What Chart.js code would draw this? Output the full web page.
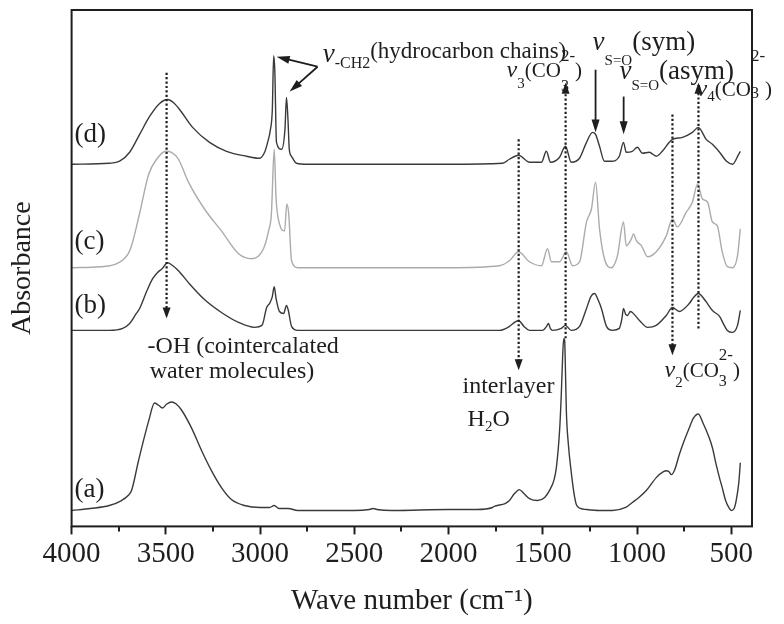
<!DOCTYPE html>
<html>
<head>
<meta charset="utf-8">
<script src="https://cdn.jsdelivr.net/npm/chart.js@4/dist/chart.umd.min.js"></script>
<style>
  html, body { margin: 0; padding: 0; background: #fff; }
  #wrap { width: 784px; height: 624px; }
</style>
</head>
<body>
<div id="wrap"><canvas id="ftir" width="784" height="624"></canvas></div>
<script>
// FTIR spectra of the four samples, (a) to (d); absorbance in arbitrary units
const wnA = [4000,3900,3800,3735,3700,3682,3645,3591,3560,3540,3518,3495,3470,3445,3417,3364,3310,3258,3205,3152,3083,3000,2950,2925,2900,2850,2800,2700,2500,2420,2400,2380,2300,2000,1850,1767,1760,1700,1677,1650,1624,1600,1571,1528,1490,1465,1440,1428,1410,1402,1395,1389,1384,1380,1375,1365,1350,1335,1322,1300,1269,1200,1131,1060,1025,990,951,898,860,845,830,818,800,776,750,723,700,675,650,617,600,580,560,548,530,510,500,485,474,460,452];
const absA = [0,.02,.05,.10,.15,.20,.50,.90,1.08,1.06,1.03,1.07,1.09,1.07,1.01,.83,.60,.40,.23,.11,.05,.03,.03,.05,.02,.02,0,0,0,.01,.02,.01,0,.01,.01,.03,.04,.07,.10,.17,.21,.17,.12,.10,.13,.20,.31,.43,.83,1.16,1.53,1.73,1.71,1.43,1.00,.68,.40,.18,.06,.02,.01,0,0,.03,.08,.13,.20,.33,.39,.40,.39,.36,.41,.56,.70,.83,.93,.97,.88,.73,.63,.46,.31,.23,.10,.02,0,.02,.10,.28,.48];

const wnB = [4000,3800,3729,3692,3660,3639,3600,3570,3545,3520,3490,3470,3433,3380,3295,3205,3114,3029,2990,2965,2950,2935,2925,2915,2897,2875,2860,2850,2833,2800,2000,1730,1677,1650,1629,1600,1571,1502,1480,1470,1460,1449,1402,1380,1349,1305,1268,1245,1226,1205,1189,1162,1131,1094,1080,1072,1060,1051,1035,1025,987,944,898,845,812,776,723,700,675,638,600,562,540,521,493,467,452];
const absB = [0,0,.02,.07,.16,.22,.40,.52,.58,.62,.68,.66,.60,.48,.31,.18,.08,.03,.05,.23,.27,.34,.44,.32,.19,.17,.25,.20,.04,0,0,0,.04,.08,.10,.04,0,0,.04,.07,.02,0,.02,.05,0,.04,.22,.34,.37,.30,.22,.04,0,.02,.12,.22,.16,.15,.19,.18,.10,.03,.05,.15,.23,.19,.27,.33,.37,.30,.20,.14,.06,0,-.02,.05,.20];

const wnC = [4000,3850,3760,3700,3682,3640,3591,3549,3500,3470,3433,3380,3295,3205,3114,3045,2982,2955,2940,2925,2915,2897,2870,2858,2848,2833,2800,2000,1730,1677,1629,1571,1507,1475,1454,1411,1375,1342,1305,1268,1242,1220,1199,1173,1136,1104,1072,1057,1030,1019,1003,976,944,898,845,812,786,738,706,679,653,626,600,574,548,521,493,467,452];
const absC = [0,.01,.04,.14,.22,.54,.94,1.09,1.17,1.16,1.09,.86,.59,.37,.14,.09,.19,.37,.54,1.19,.69,.44,.37,.64,.54,.07,0,0,.02,.07,.16,.06,.02,.19,.06,.06,.16,.02,.06,.46,.59,.86,.39,.09,0,.12,.46,.22,.29,.34,.27,.22,.11,.16,.32,.49,.41,.56,.66,.84,.69,.66,.46,.42,.16,.01,0,.12,.39];

const wnD = [4000,3800,3745,3692,3639,3586,3533,3491,3460,3427,3358,3268,3178,3072,3003,2976,2960,2945,2935,2928,2922,2913,2886,2868,2860,2852,2845,2833,2807,2750,2000,1713,1677,1629,1570,1507,1481,1459,1411,1380,1349,1305,1268,1236,1220,1199,1173,1136,1094,1072,1057,1025,998,971,935,898,866,829,812,759,706,675,633,600,562,525,493,461,452];
const absD = [0,.01,.03,.12,.30,.48,.61,.65,.62,.55,.37,.22,.13,.08,.06,.12,.22,.35,.55,1.09,.95,.22,.15,.35,.67,.45,.15,.08,.01,0,0,.01,.05,.09,.02,.02,.13,.02,.07,.18,.02,.06,.22,.32,.30,.18,.03,.03,.08,.22,.12,.13,.17,.11,.12,.08,.13,.22,.25,.27,.32,.37,.25,.20,.12,.03,0,.10,.13];

// vertical stacking of the traces (a, b, c, d)
const sampleNames = ['(a)', '(b)', '(c)', '(d)'];
const stackShift = [0.16, 1.97, 2.60, 3.64];

// axis ticks
const majorTicks = [4000, 3500, 3000, 2500, 2000, 1500, 1000, 500];
const minorTicks = [3750, 3250, 2750, 2250, 1750, 1250, 750];

const FONT = "'Liberation Serif', 'Times New Roman', serif";
const INK = '#1e1e1e';
const TRACE = '#3a3a3a';

function series(wn, ab, shift) {
  return wn.map((w, i) => ({ x: w, y: ab[i] + shift }));
}

// band assignments: dotted guides (wavenumber, from, to) and solid pointers
const dottedGuides = [
  { x: 3496, from: 4.56, to: 2.09 },
  { x: 1628, from: 3.89, to: 1.57 },
  { x: 1379, from: 1.89, to: 4.46 },
  { x: 812,  from: 4.14, to: 1.72 },
  { x: 674,  from: 1.99, to: 4.46 }
];
const solidPointers = [
  { x1: 2695, y1: 4.62, x2: 2912, y2: 4.72 },
  { x1: 2695, y1: 4.62, x2: 2843, y2: 4.37 },
  { x1: 1220, y1: 4.59, x2: 1220, y2: 3.96 },
  { x1: 1071, y1: 4.32, x2: 1071, y2: 3.94 }
];

const NU = '\u03BD';
const bandLabels = [
  { x: 2668, y: 4.71, parts: [
    { t: NU, size: 27, it: true, dy: 4 },
    { t: '-CH2', size: 16, dy: 10 },
    { t: '(hydrocarbon chains)', size: 23 } ] },
  { x: 1236, y: 4.79, parts: [
    { t: NU, size: 27, it: true },
    { t: 'S=O', size: 15, dy: 15 },
    { t: '(sym)', size: 27 } ] },
  { x: 1692, y: 4.52, parts: [
    { t: NU, size: 24, it: true },
    { t: '3', size: 15, dy: 11 },
    { t: '(CO', size: 21 },
    { stack: [ { t: '2-', size: 17, dy: -16 }, { t: '3', size: 16, dy: 14 } ] },
    { t: ')', size: 21 } ] },
  { x: 1093, y: 4.50, parts: [
    { t: NU, size: 27, it: true },
    { t: 'S=O', size: 15, dy: 11 },
    { t: '(asym)', size: 27 } ] },
  { x: 684, y: 4.33, parts: [
    { t: NU, size: 24, it: true },
    { t: '4', size: 15, dy: 5 },
    { t: '(CO', size: 21 },
    { stack: [ { t: '2-', size: 17, dy: -35 }, { t: '3', size: 16, dy: 2 } ] },
    { t: ')', size: 21 } ] },
  { x: 854, y: 1.50, parts: [
    { t: NU, size: 24, it: true },
    { t: '2', size: 15, dy: 10 },
    { t: '(CO', size: 21 },
    { stack: [ { t: '2-', size: 17, dy: -17 }, { t: '3', size: 16, dy: 9 } ] },
    { t: ')', size: 21 } ] },
  { x: 1926, y: 1.34, parts: [ { t: 'interlayer', size: 24 } ] },
  { x: 1899, y: 1.01, parts: [
    { t: 'H', size: 24 }, { t: '2', size: 15, dy: 5 }, { t: 'O', size: 24 } ] },
  { x: 3597, y: 1.74, parts: [ { t: '-OH (cointercalated', size: 24 } ] },
  { x: 3586, y: 1.49, parts: [ { t: 'water molecules)', size: 24 } ] }
];
const nameX = 3984;
const nameY = [0.30, 2.14, 2.79, 3.86];

function richText(ctx, x, y, parts) {
  let cx = x;
  for (const p of parts) {
    const segs = p.stack || [p];
    let w = 0;
    for (const s of segs) {
      ctx.font = (s.it ? 'italic ' : '') + s.size + 'px ' + FONT;
      ctx.fillText(s.t, cx, y + (s.dy || 0));
      w = Math.max(w, ctx.measureText(s.t).width);
    }
    cx += w;
  }
}

function head(ctx, tx, ty, fx, fy, len, half) {
  const a = Math.atan2(ty - fy, tx - fx);
  const c = Math.cos(a), s = Math.sin(a);
  ctx.beginPath();
  ctx.moveTo(tx, ty);
  ctx.lineTo(tx - len * c + half * s, ty - len * s - half * c);
  ctx.lineTo(tx - len * c - half * s, ty - len * s + half * c);
  ctx.closePath();
  ctx.fill();
}

function arrow(ctx, fx, fy, tx, ty, dotted, len, half) {
  const a = Math.atan2(ty - fy, tx - fx);
  const ex = tx - len * 0.8 * Math.cos(a), ey = ty - len * 0.8 * Math.sin(a);
  ctx.setLineDash(dotted ? [2.2, 2.2] : []);
  ctx.beginPath();
  ctx.moveTo(fx, fy);
  ctx.lineTo(ex, ey);
  ctx.stroke();
  ctx.setLineDash([]);
  head(ctx, tx, ty, fx, fy, len, half);
}

const annotations = {
  id: 'annotations',
  afterDatasetsDraw(chart) {
    const { ctx, scales: { x, y } } = chart;
    ctx.save();
    ctx.strokeStyle = INK;
    ctx.fillStyle = INK;
    ctx.lineWidth = 2.2;
    for (const g of dottedGuides) {
      const px = x.getPixelForValue(g.x);
      arrow(ctx, px, y.getPixelForValue(g.from), px, y.getPixelForValue(g.to), true, 11, 4);
    }
    ctx.lineWidth = 1.8;
    for (const p of solidPointers) {
      arrow(ctx, x.getPixelForValue(p.x1), y.getPixelForValue(p.y1),
            x.getPixelForValue(p.x2), y.getPixelForValue(p.y2), false, 13, 4);
    }
    ctx.textBaseline = 'alphabetic';
    ctx.textAlign = 'left';
    for (const l of bandLabels) {
      richText(ctx, x.getPixelForValue(l.x), y.getPixelForValue(l.y), l.parts);
    }
    ctx.font = '27px ' + FONT;
    sampleNames.forEach((n, i) => {
      ctx.fillText(n, x.getPixelForValue(nameX), y.getPixelForValue(nameY[i]));
    });
    ctx.restore();
  },
  afterDraw(chart) {
    const { ctx, chartArea: a, scales: { x } } = chart;
    ctx.save();
    ctx.strokeStyle = INK;
    ctx.lineWidth = 2;
    ctx.strokeRect(a.left, a.top, a.right - a.left, a.bottom - a.top);
    for (const v of minorTicks) {
      const px = Math.round(x.getPixelForValue(v));
      ctx.beginPath();
      ctx.moveTo(px, a.bottom);
      ctx.lineTo(px, a.bottom + 5);
      ctx.stroke();
    }
    ctx.restore();
  }
};

const lineStyle = (color) => ({
  borderColor: color, borderWidth: 1.4, pointRadius: 0,
  cubicInterpolationMode: 'monotone', fill: false
});

new Chart(document.getElementById('ftir'), {
  type: 'line',
  data: {
    datasets: [
      { label: sampleNames[3], data: series(wnD, absD, stackShift[3]), ...lineStyle(TRACE) },
      { label: sampleNames[1], data: series(wnB, absB, stackShift[1]), ...lineStyle(TRACE) },
      { label: sampleNames[0], data: series(wnA, absA, stackShift[0]), ...lineStyle(TRACE) },
      { label: sampleNames[2], data: series(wnC, absC, stackShift[2]), ...lineStyle('#ababab') }
    ]
  },
  options: {
    responsive: false,
    animation: false,
    devicePixelRatio: 1,
    layout: { padding: { left: 0, right: 32, top: 10, bottom: 0 }, autoPadding: false },
    plugins: { legend: { display: false }, tooltip: { enabled: false } },
    scales: {
      x: {
        type: 'linear', reverse: true, min: 390, max: 4000,
        afterBuildTicks: (s) => { s.ticks = majorTicks.map(v => ({ value: v })); },
        ticks: { callback: (v) => String(v), font: { family: FONT, size: 29 }, color: INK,
                 padding: 2.6, maxRotation: 0, autoSkip: false },
        grid: { display: true, drawOnChartArea: false, drawTicks: true, tickLength: 8,
                tickWidth: 2, tickColor: INK },
        border: { display: false },
        title: { display: true, text: 'Wave number (cm\u207B\u00B9)', color: INK,
                 font: { family: FONT, size: 29 }, padding: { top: 9.2, bottom: 5.6 } }
      },
      y: {
        type: 'linear', min: 0, max: 5.19,
        ticks: { display: false },
        grid: { display: false, drawTicks: false },
        border: { display: false },
        title: { display: true, text: 'Absorbance', color: INK,
                 font: { family: FONT, size: 28 }, padding: { top: 6, bottom: 32 } }
      }
    }
  },
  plugins: [annotations]
});
</script>
</body>
</html>
